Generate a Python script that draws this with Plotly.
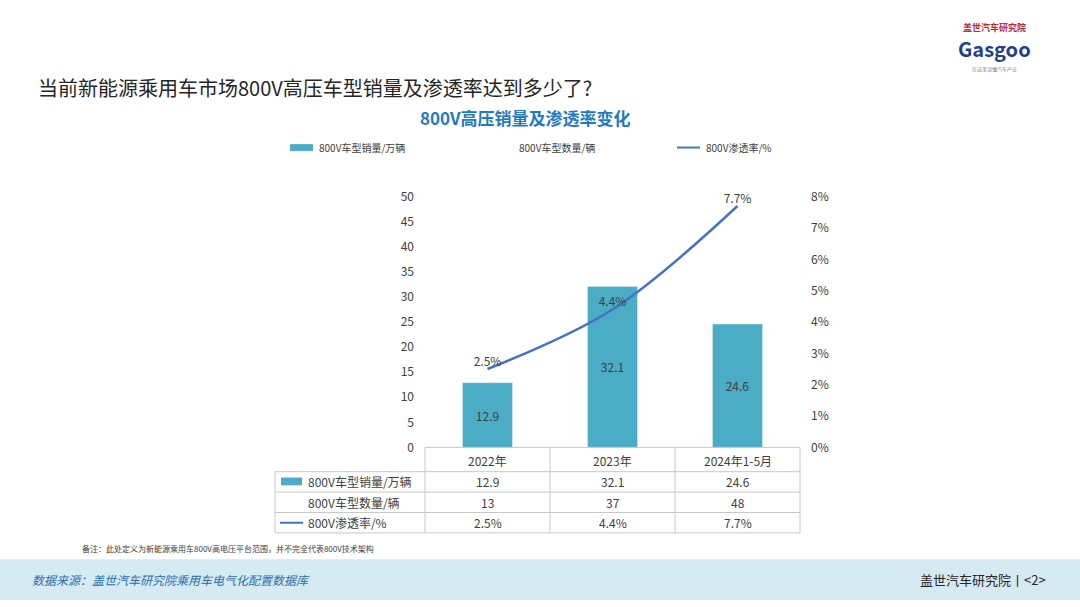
import plotly.graph_objects as go

categories = ["2022年", "2023年", "2024年1-5月"]
sales = [12.9, 32.1, 24.6]
models = [13, 37, 48]
rate = [2.5, 4.4, 7.7]

W, H = 1080, 607
def px(x): return x / W
def py(y): return 1 - y / H

BAR = "#4bacc6"
LINE = "#4472c4"
FONT = "Noto Sans CJK SC"

fig = go.Figure()
fig.add_trace(go.Bar(x=categories, y=sales, marker_color=BAR, width=0.4,
                     text=[f"{v}" for v in sales], textposition="inside",
                     insidetextanchor="middle", textfont=dict(color="#404040", size=12),
                     name="800V车型销量/万辆", showlegend=False))
fig.add_trace(go.Scatter(x=categories, y=rate, yaxis="y2", mode="lines+text", cliponaxis=False,
                         line=dict(color=LINE, width=2.5, shape="spline"),
                         text=[f"{v}%" for v in rate], textposition="top center",
                         textfont=dict(color="#404040", size=12), showlegend=False))

fig.update_layout(
    width=W, height=H, margin=dict(l=0, r=0, t=0, b=0),
    paper_bgcolor="white", plot_bgcolor="white", font=dict(family=FONT, color="#404040"),
    xaxis=dict(domain=[px(425), px(800)], anchor="y", showticklabels=False, showline=False, showgrid=False),
    yaxis=dict(domain=[py(450), py(192)], range=[0, 50], dtick=5, showgrid=False,
               zeroline=False, tickfont=dict(size=12, color="#404040"), ticks="", ticklabelstandoff=10),
    yaxis2=dict(overlaying="y", side="right", range=[0, 8], dtick=1, ticksuffix="%",
                showgrid=False, zeroline=False, tickfont=dict(size=12, color="#404040"), ticklabelstandoff=10),
)

shapes = []
ann = []
shapes.append(dict(type="rect", xref="paper", yref="paper", x0=0, x1=1, y0=py(607), y1=py(565),
                   fillcolor="#d5eaf2", line_width=0, layer="below"))
cols = [275, 425, 550, 675, 800]
rows = [450, 475, 496, 517, 538]
gray = "#c8c8c8"
for x in cols[1:]:
    shapes.append(dict(type="line", xref="paper", yref="paper", x0=px(x), x1=px(x), y0=py(450), y1=py(538), line=dict(color=gray, width=1)))
shapes.append(dict(type="line", xref="paper", yref="paper", x0=px(275), x1=px(275), y0=py(475), y1=py(538), line=dict(color=gray, width=1)))
shapes.append(dict(type="line", xref="paper", yref="paper", x0=px(425), x1=px(800), y0=py(450), y1=py(450), line=dict(color=gray, width=1)))
for y in rows[1:]:
    shapes.append(dict(type="line", xref="paper", yref="paper", x0=px(275), x1=px(800), y0=py(y), y1=py(y), line=dict(color=gray, width=1)))

def T(x, y, s, size=12, color="#404040", xa="center", **kw):
    ann.append(dict(x=px(x), y=py(y), xref="paper", yref="paper", text=s, showarrow=False,
                    xanchor=xa, yanchor="middle", font=dict(size=size, color=color, family=FONT), **kw))

centers = [487.5, 612.5, 737.5]
for c, cat, s, m, r in zip(centers, categories, sales, models, rate):
    T(c, 463, cat)
    T(c, 485.5, f"{s}")
    T(c, 506.5, f"{m}")
    T(c, 527.5, f"{r}%")
shapes.append(dict(type="rect", xref="paper", yref="paper", x0=px(281), x1=px(302), y0=py(481), y1=py(489), fillcolor=BAR, line_width=0))
T(306, 485.5, "800V车型销量/万辆", xa="left")
T(306, 506.5, "800V车型数量/辆", xa="left")
shapes.append(dict(type="line", xref="paper", yref="paper", x0=px(280), x1=px(303), y0=py(527.5), y1=py(527.5), line=dict(color=LINE, width=2)))
T(306, 527.5, "800V渗透率/%", xa="left")

shapes.append(dict(type="rect", xref="paper", yref="paper", x0=px(290), x1=px(313), y0=py(138), y1=py(145), fillcolor=BAR, line_width=0))
T(317, 141.5, "800V车型销量/万辆", size=10, xa="left")
T(517, 141.5, "800V车型数量/辆", size=10, xa="left")
shapes.append(dict(type="line", xref="paper", yref="paper", x0=px(677), x1=px(700), y0=py(141.5), y1=py(141.5), line=dict(color=LINE, width=2)))
T(704, 141.5, "800V渗透率/%", size=10, xa="left")

T(36, 80, "当前新能源乘用车市场800V高压车型销量及渗透率达到多少了?", size=20, color="#262626", xa="left")
T(525, 111, "<b>800V高压销量及渗透率变化</b>", size=17, color="#1f7ac4")
T(80, 554, "备注：此处定义为新能源乘用车800V高电压平台范围，并不完全代表800V技术架构", size=8, color="#404040", xa="left")
T(30, 586, "<i>数据来源：盖世汽车研究院乘用车电气化配置数据库</i>", size=12, color="#2a6fb0", xa="left")
T(1048, 586, "盖世汽车研究院丨<2>", size=13, color="#262626", xa="right")
T(994, 18, "<b>盖世汽车研究院</b>", size=9, color="#c0282d")
T(994, 40, "<b>Gasgoo</b>", size=20, color="#1f3f8f")
T(994, 61, "在这里读懂汽车产业", size=5, color="#888888")

fig.update_layout(shapes=shapes, annotations=ann)
fig.write_html("out.html", config={"displayModeBar": False},
               post_script="document.body.style.margin='0';document.body.style.overflow='hidden';")
